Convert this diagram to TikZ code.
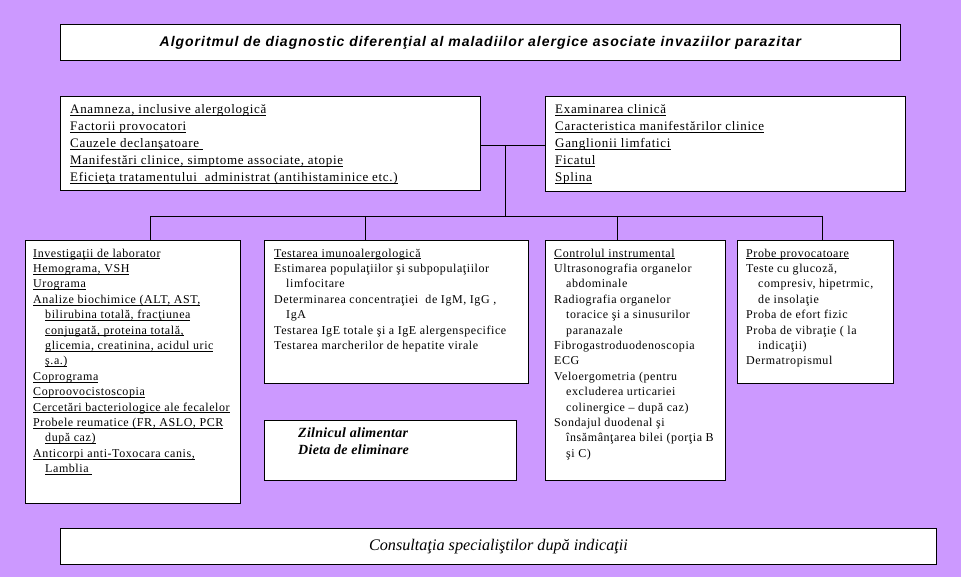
\documentclass[tikz,border=0pt]{standalone}
\usepackage{fontspec}
\setmainfont{Liberation Serif}
\newfontfamily\arialfont{Liberation Sans}
\usetikzlibrary{positioning}
\definecolor{fundal}{HTML}{CC99FF}
\newcommand{\sublin}[1]{\setbox0\hbox{#1}\rlap{\rule[-1.8pt]{\wd0}{0.5pt}}\box0}

\begin{document}
\begin{tikzpicture}[x=1pt, y=-1pt,
      caseta/.style={draw=black, line width=0.9pt, fill=white, anchor=north west, inner sep=0pt},
      scris/.style={anchor=north west, align=left, inner sep=0pt, font=\fontsize{12pt}{15.4pt}\selectfont\addfontfeature{LetterSpace=4.8}},
      scrismare/.style={scris, font=\fontsize{13pt}{17pt}\selectfont\addfontfeature{LetterSpace=5.3}},
      linie/.style={line width=0.9pt}
    ]

    % ─── Fundal ──────────────────────────────────────────────────
    \useasboundingbox (0,0) rectangle (961,577);
    \fill[fundal] (0,0) rectangle (961,577);

    % ─── Titlu ───────────────────────────────────────────────────
    \node[caseta, minimum width=840, minimum height=36,
          font=\arialfont\bfseries\itshape\fontsize{14pt}{16pt}\selectfont\addfontfeature{LetterSpace=7}] (titlu) at (60,24)
      {Algoritmul de diagnostic diferenţial al maladiilor alergice asociate invaziilor parazitar};

    % ─── Casete de sus ───────────────────────────────────────────
    \node[caseta, minimum width=420, minimum height=94] (anam) at (60,96) {};
    \node[scrismare, below right=8.5pt and 10pt of anam.north west] (anam-t)
      {\sublin{Anamneza, inclusive alergologică}\\
       \sublin{Factorii provocatori}\\
       \sublin{Cauzele declanşatoare\ }\\
       \sublin{Manifestări clinice, simptome associate, atopie}\\
       \sublin{Eficieţa tratamentului\ \ administrat (antihistaminice etc.)}};

    \node[caseta, minimum width=360, minimum height=95] (exam) at (545,96) {};
    \node[scrismare, below right=8.5pt and 10pt of exam.north west] (exam-t)
      {\sublin{Examinarea clinică}\\
       \sublin{Caracteristica manifestărilor clinice}\\
       \sublin{Ganglionii limfatici}\\
       \sublin{Ficatul}\\
       \sublin{Splina}};

    % ─── Casete de jos ───────────────────────────────────────────
    \node[caseta, minimum width=215, minimum height=263] (lab) at (25,240) {};
    \node[scris, below right=8.5pt and 8pt of lab.north west] (lab-t)
      {\sublin{Investigaţii de laborator}\\
       \sublin{Hemograma, VSH}\\
       \sublin{Urograma}\\
       \sublin{Analize biochimice (ALT, AST,}\\
       \hspace*{12pt}\sublin{bilirubina totală, fracţiunea}\\
       \hspace*{12pt}\sublin{conjugată, proteina totală,}\\
       \hspace*{12pt}\sublin{glicemia, creatinina, acidul uric}\\
       \hspace*{12pt}\sublin{ş.a.)}\\
       \sublin{Coprograma}\\
       \sublin{Coproovocistoscopia}\\
       \sublin{Cercetări bacteriologice ale fecalelor}\\
       \sublin{Probele reumatice (FR, ASLO, PCR}\\
       \hspace*{12pt}\sublin{după caz)}\\
       \sublin{Anticorpi anti-Toxocara canis,}\\
       \hspace*{12pt}\sublin{Lamblia\ }};

    \node[caseta, minimum width=264, minimum height=143] (imun) at (264,240) {};
    \node[scris, below right=8.5pt and 10pt of imun.north west] (imun-t)
      {\sublin{Testarea imunoalergologică}\\
       Estimarea populaţiilor şi subpopulaţiilor\\
       \hspace*{12pt}limfocitare\\
       Determinarea concentraţiei\ \ de IgM, IgG ,\\
       \hspace*{12pt}IgA\\
       Testarea IgE totale şi a IgE alergenspecifice\\
       Testarea marcherilor de hepatite virale};

    \node[caseta, minimum width=180, minimum height=240] (instr) at (545,240) {};
    \node[scris, below right=8.5pt and 9pt of instr.north west] (instr-t)
      {\sublin{Controlul instrumental}\\
       Ultrasonografia organelor\\
       \hspace*{12pt}abdominale\\
       Radiografia organelor\\
       \hspace*{12pt}toracice şi a sinusurilor\\
       \hspace*{12pt}paranazale\\
       Fibrogastroduodenoscopia\\
       ECG\\
       Veloergometria (pentru\\
       \hspace*{12pt}excluderea urticariei\\
       \hspace*{12pt}colinergice – după caz)\\
       Sondajul duodenal şi\\
       \hspace*{12pt}însămânţarea bilei (porţia B\\
       \hspace*{12pt}şi C)};

    \node[caseta, minimum width=156, minimum height=143] (probe) at (737,240) {};
    \node[scris, below right=8.5pt and 9pt of probe.north west] (probe-t)
      {\sublin{Probe provocatoare}\\
       Teste cu glucoză,\\
       \hspace*{12pt}compresiv, hipetrmic,\\
       \hspace*{12pt}de insolaţie\\
       Proba de efort fizic\\
       Proba de vibraţie ( la\\
       \hspace*{12pt}indicaţii)\\
       Dermatropismul};

    % ─── Dieta ───────────────────────────────────────────────────
    \node[caseta, minimum width=252, minimum height=60] (dieta) at (264,420) {};
    \node[scrismare, font=\bfseries\itshape\fontsize{14pt}{17pt}\selectfont\addfontfeature{LetterSpace=2},
          below right=8pt and 34pt of dieta.north west] (dieta-t)
      {Zilnicul alimentar\\
       Dieta de eliminare};

    % ─── Consultatia ─────────────────────────────────────────────
    \node[caseta, minimum width=876, minimum height=36,
          font=\itshape\fontsize{16.2pt}{18pt}\selectfont] (consult) at (60,528)
      {Consultaţia specialiştilor după indicaţii};

    % ─── Linii ───────────────────────────────────────────────────
    \coordinate (ram) at (505,145);
    \coordinate (bus) at (505,216);
    \coordinate (b1) at (150,216);
    \coordinate (b2) at (365,216);
    \coordinate (b3) at (617,216);
    \coordinate (b4) at (822,216);

    \draw[linie] (anam.east |- ram) -- (exam.west |- ram);
    \draw[linie] (ram) -- (bus);
    \draw[linie] (b1) -- (b4);
    \draw[linie] (b1) -- (b1 |- lab.north);
    \draw[linie] (b2) -- (b2 |- imun.north);
    \draw[linie] (b3) -- (b3 |- instr.north);
    \draw[linie] (b4) -- (b4 |- probe.north);

    \end{tikzpicture}
\end{document}
